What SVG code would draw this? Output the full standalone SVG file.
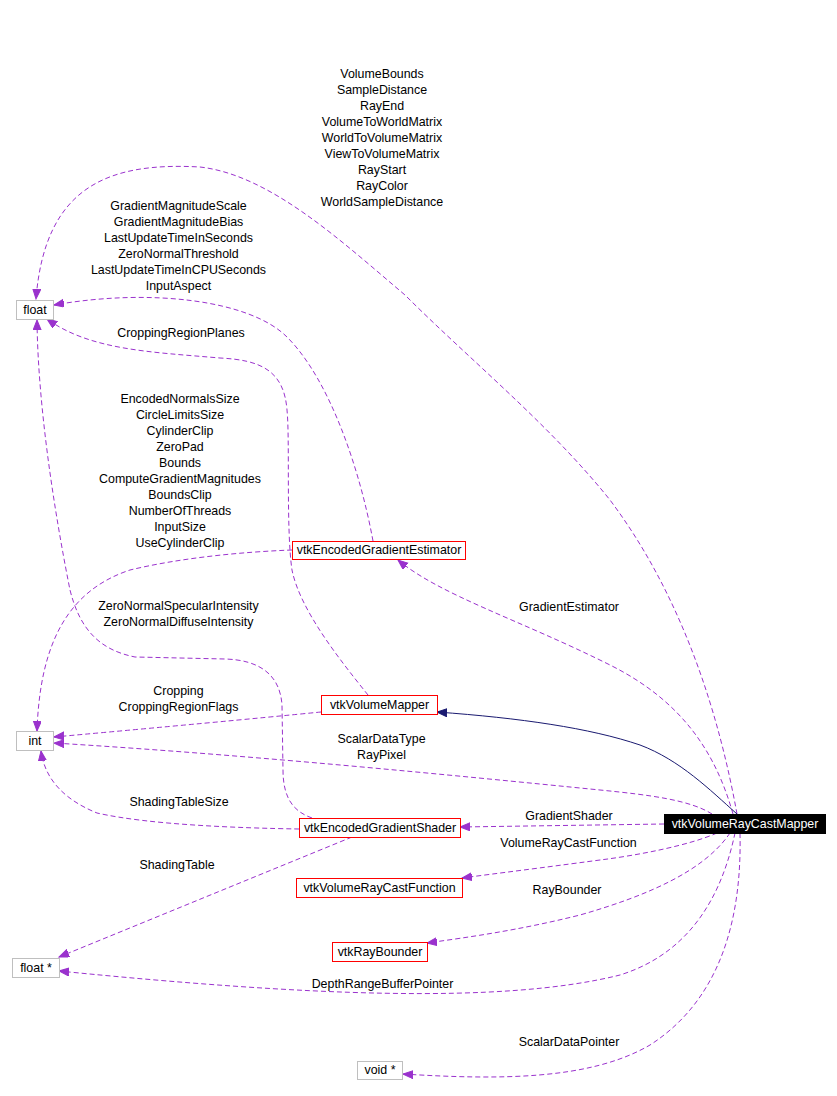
<svg xmlns="http://www.w3.org/2000/svg" width="837" height="1096" viewBox="0 0 837 1096">
<style>
text{font-family:"Liberation Sans",Arial,sans-serif;font-size:12.4px;fill:#000;text-anchor:middle}
.n rect{fill:#fff;stroke:#ff0000;stroke-width:1}
.g rect{fill:#fff;stroke:#bfbfbf;stroke-width:1}
.m rect{fill:#000;stroke:#000}
.m text{fill:#fff}
.e{fill:none;stroke:#9a32cd;stroke-width:1;stroke-dasharray:5,3;marker-end:url(#ap)}
.i{fill:none;stroke:#191970;stroke-width:1;marker-end:url(#an)}
</style>
<defs>
<marker id="ap" markerUnits="userSpaceOnUse" markerWidth="12" markerHeight="9" refX="10" refY="4" orient="auto"><path d="M0,0 L10,4 L0,8 z" fill="#9a32cd" stroke="#9a32cd"/></marker>
<marker id="an" markerUnits="userSpaceOnUse" markerWidth="12" markerHeight="9" refX="10" refY="4" orient="auto"><path d="M0,0 L10,4 L0,8 z" fill="#191970" stroke="#191970"/></marker>
</defs>
<rect width="837" height="1096" fill="#fff"/>
<g id="connectors">
<path class="e" d="M737,814 C720,720 685,600 610,500 C550,425 470,360 405,295 C340,240 270,175 200,167 C110,162 45,185 36,299"/>
<path class="e" d="M373,541 C360,470 330,380 287,337 C250,300 150,288 54,305"/>
<path class="e" d="M368,695 C340,660 300,610 292,570 C286,530 290,440 287,410 C284,370 260,360 220,358 C150,352 90,350 47,319"/>
<path class="e" d="M312,818 C295,812 283,800 283,770 L282,705 C280,675 260,660 225,659 L135,657 C100,650 80,630 70,590 C60,540 38,420 37,320"/>
<path class="e" d="M292,550 C240,552 180,558 130,570 C70,590 40,640 37,731"/>
<path class="e" d="M321,712 Q220,722 54,737"/>
<path class="e" d="M712,814 C690,800 650,795 600,790 C450,775 250,755 54,743"/>
<path class="e" d="M299,829 C240,828 150,825 97,813 C65,800 45,780 41,751"/>
<path class="e" d="M352,837 L59,957"/>
<path class="e" d="M733,814 C715,750 680,700 610,665 C520,620 440,595 398,560"/>
<path class="i" d="M737,814 C710,790 680,760 640,745 C590,728 520,718 437,712"/>
<path class="e" d="M664,824 L460,827"/>
<path class="e" d="M717,833 C690,845 640,855 600,860 C540,868 500,873 462,878"/>
<path class="e" d="M730,833 C705,870 650,895 580,915 C520,930 470,937 427,943"/>
<path class="e" d="M735,833 C725,880 700,950 620,975 C500,1005 300,995 59,971"/>
<path class="e" d="M740,833 C742,920 720,1000 650,1045 C590,1080 500,1080 403,1074"/>
</g>
<g id="labels">
<text x="382" y="78">VolumeBounds</text>
<text x="382" y="94">SampleDistance</text>
<text x="382" y="110">RayEnd</text>
<text x="382" y="126">VolumeToWorldMatrix</text>
<text x="382" y="142">WorldToVolumeMatrix</text>
<text x="382" y="158">ViewToVolumeMatrix</text>
<text x="382" y="174">RayStart</text>
<text x="382" y="190">RayColor</text>
<text x="382" y="206">WorldSampleDistance</text>
<text x="178.5" y="210">GradientMagnitudeScale</text>
<text x="178.5" y="226">GradientMagnitudeBias</text>
<text x="178.5" y="242">LastUpdateTimeInSeconds</text>
<text x="178.5" y="258">ZeroNormalThreshold</text>
<text x="178.5" y="274">LastUpdateTimeInCPUSeconds</text>
<text x="178.5" y="290">InputAspect</text>
<text x="181" y="337">CroppingRegionPlanes</text>
<text x="180" y="403">EncodedNormalsSize</text>
<text x="180" y="419">CircleLimitsSize</text>
<text x="180" y="435">CylinderClip</text>
<text x="180" y="451">ZeroPad</text>
<text x="180" y="467">Bounds</text>
<text x="180" y="483">ComputeGradientMagnitudes</text>
<text x="180" y="499">BoundsClip</text>
<text x="180" y="515">NumberOfThreads</text>
<text x="180" y="531">InputSize</text>
<text x="180" y="547">UseCylinderClip</text>
<text x="178.5" y="610">ZeroNormalSpecularIntensity</text>
<text x="178.5" y="626">ZeroNormalDiffuseIntensity</text>
<text x="178.5" y="695">Cropping</text>
<text x="178.5" y="711">CroppingRegionFlags</text>
<text x="381.5" y="743">ScalarDataType</text>
<text x="381.5" y="759">RayPixel</text>
<text x="569" y="611">GradientEstimator</text>
<text x="179" y="806">ShadingTableSize</text>
<text x="569" y="820">GradientShader</text>
<text x="568.5" y="847">VolumeRayCastFunction</text>
<text x="177" y="869">ShadingTable</text>
<text x="567" y="894">RayBounder</text>
<text x="382.5" y="988">DepthRangeBufferPointer</text>
<text x="569" y="1046">ScalarDataPointer</text>
</g>
<g id="node-float" class="g"><rect x="16.5" y="300.5" width="37" height="19"/><text x="35" y="314">float</text></g>
<g id="node-int" class="g"><rect x="16.5" y="731.5" width="37" height="19"/><text x="35" y="745">int</text></g>
<g id="node-estimator" class="n"><rect x="292.5" y="541.5" width="173" height="18"/><text x="379" y="554">vtkEncodedGradientEstimator</text></g>
<g id="node-volumemapper" class="n"><rect x="321.5" y="695.5" width="116" height="19"/><text x="379.5" y="709">vtkVolumeMapper</text></g>
<g id="node-shader" class="n"><rect x="299.5" y="818.5" width="161" height="19"/><text x="380" y="832">vtkEncodedGradientShader</text></g>
<g id="node-function" class="n"><rect x="296.5" y="878.5" width="166" height="19"/><text x="379.5" y="892">vtkVolumeRayCastFunction</text></g>
<g id="node-mapper" class="m"><rect x="664.5" y="814.5" width="161" height="19"/><text x="745" y="828">vtkVolumeRayCastMapper</text></g>
<g id="node-floatptr" class="g"><rect x="12.5" y="958.5" width="47" height="19"/><text x="36" y="972">float *</text></g>
<g id="node-raybounder" class="n"><rect x="332.5" y="942.5" width="95" height="19"/><text x="380" y="956">vtkRayBounder</text></g>
<g id="node-void" class="g"><rect x="357.5" y="1061.5" width="45" height="18"/><text x="380" y="1074">void *</text></g>
</svg>
